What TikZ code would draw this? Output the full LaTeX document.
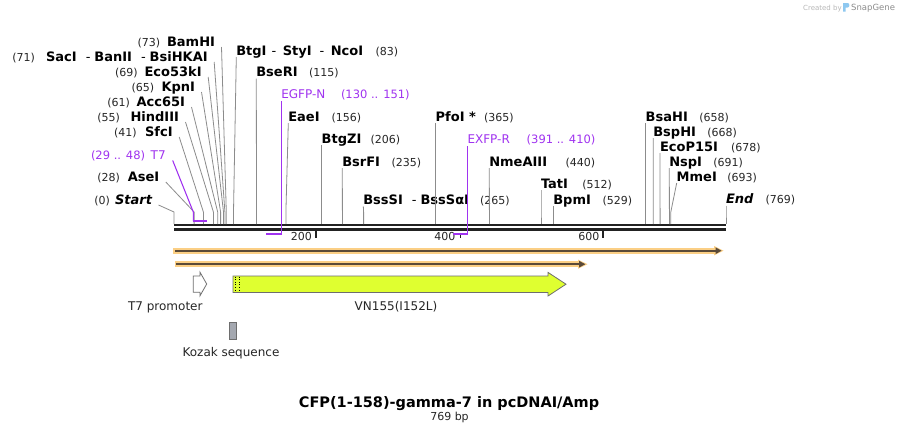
\documentclass[tikz,border=0pt]{standalone}
\usepackage{fontspec}
\setmainfont{DejaVu Sans}
\definecolor{cutgray}{HTML}{8C8C8C}
\definecolor{primc}{HTML}{A033F0}
\definecolor{bbone}{HTML}{222222}
\definecolor{orng}{HTML}{FBCF85}
\definecolor{dkbr}{HTML}{5A4A38}
\definecolor{featy}{HTML}{DFFF30}
\definecolor{kozakc}{HTML}{A4A8B0}
\definecolor{featline}{HTML}{6E6E6E}
\definecolor{sglogo}{HTML}{8EC8F0}
\newcommand\leftcut[7]{% id, name, num, right x, baseline, site x, num x
  \node[enz, anchor=base east] (n#1) at (#4,#5) {#2};
  \node[num, anchor=base west] (m#1) at (#7,#5) {#3};
  \coordinate (a#1) at ([xshift=6.5pt,yshift=-1pt]n#1.base east);
  \coordinate (k#1) at (#6,212);
  \coordinate (s#1) at (#6,224);
  \draw[cut] (a#1) -- (k#1) -- (s#1);
}
\newcommand\rightcut[7]{% id, name, num, left x, baseline, site x, num x
  \node[enz] (n#1) at (#4,#5) {#2};
  \node[num, anchor=base west] (m#1) at (#7,#5) {#3};
  \coordinate (a#1) at (#4,#5+2);
  \coordinate (k#1) at (#6,212);
  \coordinate (s#1) at (#6,224);
  \draw[cut] (a#1) -- (k#1) -- (s#1);
}
\newcommand\dsep{\hspace{9pt}{\mdseries -}\hspace{4pt}}
\begin{document}
\begin{tikzpicture}[x=1pt,y=-1pt,
  enz/.style={inner sep=0pt, outer sep=0pt, font=\fontsize{13}{15}\selectfont\bfseries, anchor=base west},
  num/.style={inner sep=0pt, outer sep=0pt, font=\fontsize{11}{13}\selectfont, text=black!85},
  prim/.style={inner sep=0pt, outer sep=0pt, font=\fontsize{12}{14}\selectfont, text=primc, anchor=base west},
  pnum/.style={inner sep=0pt, outer sep=0pt, font=\fontsize{11.5}{14}\selectfont, text=primc, anchor=base west},
  lab/.style={inner sep=0pt, outer sep=0pt, font=\fontsize{12}{14}\selectfont, text=black!85, anchor=base},
  cut/.style={draw=cutgray, line width=0.8pt},
  pline/.style={draw=primc, line width=1.1pt},
  bracket/.style={draw=primc, line width=2pt},
  feat/.style={draw=featline, line width=0.8pt},
  bb/.style={draw=bbone, line width=2.5pt},
  tick/.style={draw=bbone, line width=1.5pt},
  ticklab/.style={inner sep=0pt, font=\fontsize{11}{13}\selectfont, text=black!85, anchor=base east}]
\useasboundingbox[fill=white] (0,0) rectangle (900,434);

% backbone
\coordinate (bbL1) at (174,225); \coordinate (bbR1) at (726,225);
\coordinate (bbL2) at (174,229.5); \coordinate (bbR2) at (726,229.5);
\draw[bb] (bbL1) -- (bbR1);
\draw[bb] (bbL2) -- (bbR2);

% ticks
\coordinate (t200a) at (315.8,231); \coordinate (t200b) at (315.8,237.5);
\coordinate (t400a) at (460.3,235); \coordinate (t400b) at (460.3,237.5);
\coordinate (t600a) at (603.2,231); \coordinate (t600b) at (603.2,237.5);
\draw[tick] (t200a) -- (t200b);
\draw[tick] (t400a) -- (t400b);
\draw[tick] (t600a) -- (t600b);
\node[ticklab] (l200) at (312,240.7) {200};
\node[ticklab] (l400) at (455.5,240.7) {400};
\node[ticklab] (l600) at (599.5,240.7) {600};

% left group
\leftcut{BamHI}{BamHI}{(73)}{215}{46}{226.3}{137.7}
\leftcut{Sac}{SacI\dsep BanII\dsep BsiHKAI}{(71)}{207.7}{61}{224.9}{12.3}
\leftcut{Eco}{Eco53kI}{(69)}{201.7}{76}{223.5}{115}
\leftcut{Kpn}{KpnI}{(65)}{195}{91}{220.6}{131.7}
\leftcut{Acc}{Acc65I}{(61)}{185}{106}{217.7}{107.3}
\leftcut{Hind}{HindIII}{(55)}{179}{121}{213.4}{97.3}
\leftcut{Sfc}{SfcI}{(41)}{172.7}{136}{203.4}{114}
\leftcut{Ase}{AseI}{(28)}{159.3}{181}{194.1}{97.3}
\leftcut{Start}{\itshape Start}{(0)}{152}{204}{174}{94.3}

% right group
\rightcut{Btg}{BtgI\hspace{5pt}{\mdseries -}\hspace{6.5pt}StyI\hspace{8pt}{\mdseries -}\hspace{6.5pt}NcoI}{(83)}{236.3}{55}{233.5}{375.7}
\rightcut{BseRI}{BseRI}{(115)}{256.3}{76.5}{256.5}{309}
\rightcut{Eae}{EaeI}{(156)}{288.3}{121}{285.9}{331.7}
\rightcut{BtgZ}{BtgZI}{(206)}{321.7}{143.3}{321.7}{370.7}
\rightcut{BsrF}{BsrFI}{(235)}{342.3}{166}{342.4}{391.7}
\rightcut{BssS}{BssSI\dsep BssSαI}{(265)}{363.3}{204.3}{363.6}{480}
\rightcut{Pfo}{PfoI *}{(365)}{435.7}{121}{435.7}{484}
\rightcut{Nme}{NmeAIII}{(440)}{489.3}{166}{489.4}{565.7}
\rightcut{Tat}{TatI}{(512)}{541}{188.3}{541}{582.3}
\rightcut{Bpm}{BpmI}{(529)}{553.3}{204.3}{553.3}{602.7}
\rightcut{BsaH}{BsaHI}{(658)}{645.7}{121}{645.7}{699.3}
\rightcut{BspH}{BspHI}{(668)}{653.3}{136}{653.2}{707.3}
\rightcut{EcoP}{EcoP15I}{(678)}{660}{151}{660.1}{731}
\rightcut{Nsp}{NspI}{(691)}{669.3}{166}{669.4}{713.3}
\rightcut{Mme}{MmeI}{(693)}{676.7}{181}{670.8}{727.3}
\rightcut{End}{\itshape End}{(769)}{726}{203.7}{726}{765.7}

% primers
\node[pnum] (mT7) at (91,159) {(29 .. 48)};
\node[prim, anchor=base east] (nT7) at (165.7,159) {T7};
\coordinate (aT7) at ([xshift=7pt,yshift=-1.5pt]nT7.base east);
\coordinate (kT7) at (193.3,212);
\coordinate (bT7) at (193.3,221);
\coordinate (cT7) at (207,221);
\draw[pline] (aT7) -- (kT7) -- (bT7);
\draw[bracket] ([xshift=-0.6pt]bT7) -- (cT7);

\node[prim] (nEGFP) at (281.3,98.3) {EGFP-N};
\node[pnum] (mEGFP) at (341,98.3) {(130 .. 151)};
\coordinate (aEGFP) at (281.6,101);
\coordinate (bEGFP) at (281.6,234);
\coordinate (cEGFP) at (266,234);
\draw[pline] (aEGFP) -- (bEGFP);
\draw[bracket] ([xshift=0.6pt]bEGFP) -- (cEGFP);

\node[prim] (nEXFP) at (467.5,143.5) {EXFP-R};
\node[pnum] (mEXFP) at (526.7,143.5) {(391 .. 410)};
\coordinate (aEXFP) at (467.6,146);
\coordinate (bEXFP) at (467.6,234);
\coordinate (cEXFP) at (453,234);
\draw[pline] (aEXFP) -- (bEXFP);
\draw[bracket] ([xshift=0.6pt]bEXFP) -- (cEXFP);

% orange ORF bars
\fill[orng] (173,247.8) rectangle (716,253.6);
\fill[orng] (714,246) -- (723.5,250.7) -- (714,255.4) -- cycle;
\draw[dkbr, line width=1.7pt] (175,250.7) -- (717,250.7);
\fill[dkbr] (715.5,247.3) -- (721.5,250.7) -- (715.5,254.1) -- cycle;

\fill[orng] (174.5,261.3) rectangle (580,267.1);
\fill[orng] (578,259.6) -- (587.5,264.2) -- (578,268.8) -- cycle;
\draw[dkbr, line width=1.7pt] (176,264.2) -- (581,264.2);
\fill[dkbr] (579,260.8) -- (585.3,264.2) -- (579,267.6) -- cycle;

% features
\draw[feat, fill=white] (193.3,276) -- (200,276) -- (200,272.2) -- (206.7,284) -- (200,295.8) -- (200,292.3) -- (193.3,292.3) -- cycle;
\node[lab] (lT7p) at (165.3,310) {T7 promoter};

\draw[feat, fill=featy] (233,276) -- (548,276) -- (548,272.4) -- (566,284.2) -- (548,296) -- (548,292.5) -- (233,292.5) -- cycle;
\draw[black, dotted, line width=0.6pt] (235.6,276.6) -- (235.6,292);
\draw[black, dotted, line width=0.6pt] (239.2,276.6) -- (239.2,292);
\node[lab] (lVN) at (396,310) {VN155(I152L)};

\draw[feat, fill=kozakc] (229.3,322.7) rectangle (236.7,339.3);
\node[lab] (lKoz) at (231,356.7) {Kozak sequence};

% title
\node[inner sep=0pt, font=\fontsize{14.5}{17}\selectfont\bfseries, anchor=base] (title) at (449,407.7) {CFP(1-158)-gamma-7 in pcDNAI/Amp};
\node[inner sep=0pt, font=\fontsize{11}{13}\selectfont, text=black!85, anchor=base] (bplen) at (449.5,420.7) {769 bp};

% watermark
\node[inner sep=0pt, font=\fontsize{7}{8}\selectfont, text=black!28, anchor=base west] (cby) at (803,10) {Created by};
\fill[sglogo] (843,3) -- (847.5,3) .. controls (850,3) and (850,7.5) .. (847.5,7.5) -- (845.5,7.5) -- (845.5,11.5) -- (843,11.5) -- cycle;
\node[inner sep=0pt, font=\fontsize{8.5}{10}\selectfont, text=black!45, anchor=base west] (sg) at (851,10.5) {SnapGene};
\end{tikzpicture}
\end{document}
